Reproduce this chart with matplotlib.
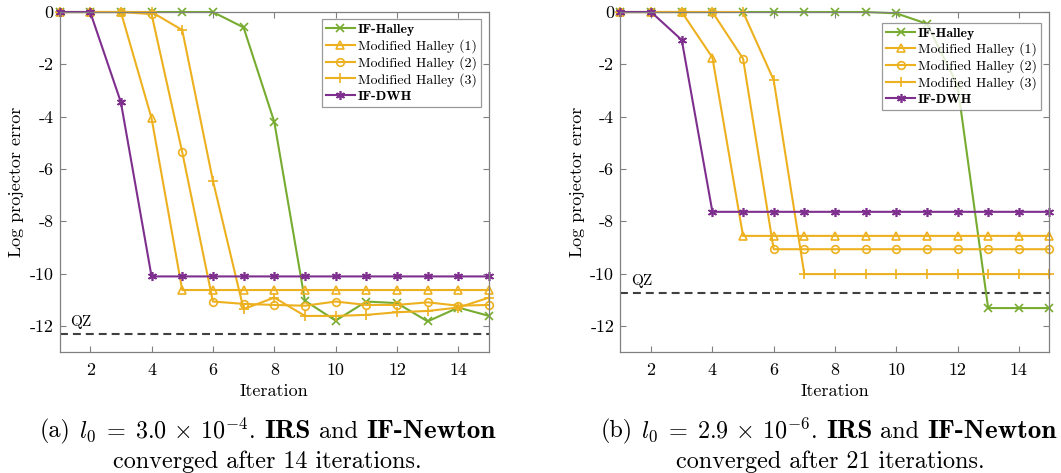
import matplotlib
matplotlib.use("Agg")
import matplotlib.pyplot as plt

plt.rcParams['font.family'] = 'serif'
plt.rcParams['font.serif'] = ['cmr10']
plt.rcParams['mathtext.fontset'] = 'cm'
plt.rcParams['axes.unicode_minus'] = False
plt.rcParams['axes.formatter.use_mathtext'] = True

iteracoes = list(range(1, 16))

# (a) l0 = 3.0e-4
halley_a = [0, 0, 0, 0, 0, 0, -0.59, -4.2, -11.04, -11.8, -11.07, -11.13, -11.83, -11.3, -11.62]
mod1_a = [0, 0, 0, -4.06, -10.63, -10.63, -10.63, -10.63, -10.63, -10.63, -10.63, -10.63, -10.63, -10.63, -10.63]
mod2_a = [0, 0, 0, -0.08, -5.36, -11.07, -11.16, -11.2, -11.23, -11.07, -11.2, -11.2, -11.1, -11.23, -11.2]
mod3_a = [0, 0, 0, 0, -0.69, -6.45, -11.36, -10.92, -11.62, -11.62, -11.58, -11.48, -11.43, -11.3, -10.92]
dwh_a = [0, 0, -3.45, -10.11, -10.11, -10.11, -10.11, -10.11, -10.11, -10.11, -10.11, -10.11, -10.11, -10.11, -10.11]
qz_a = -12.32

# (b) l0 = 2.9e-6
halley_b = [0, 0, 0, 0, 0, 0, 0, 0, 0, -0.05, -0.45, -2.8, -11.32, -11.32, -11.32]
mod1_b = [0, 0, 0, -1.74, -8.56, -8.56, -8.56, -8.56, -8.56, -8.56, -8.56, -8.56, -8.56, -8.56, -8.56]
mod2_b = [0, 0, 0, 0, -1.78, -9.07, -9.07, -9.07, -9.07, -9.07, -9.07, -9.07, -9.07, -9.07, -9.07]
mod3_b = [0, 0, 0, 0, 0, -2.6, -10.02, -10.02, -10.02, -10.02, -10.02, -10.02, -10.02, -10.02, -10.02]
dwh_b = [0, 0, -1.07, -7.64, -7.64, -7.64, -7.64, -7.64, -7.64, -7.64, -7.64, -7.64, -7.64, -7.64, -7.64]
qz_b = -10.75

nomes = ['IF-Halley', 'Modified Halley (1)', 'Modified Halley (2)', 'Modified Halley (3)', 'IF-DWH']
verde = '#77AC30'
amarelo = '#EDB120'
roxo = '#7E2F8E'

W, H = 1061, 473
fig = plt.figure(figsize=(W / 100, H / 100), dpi=100)


def desenha(ax, series, qz, leg_anchor):
    estilos = [
        dict(color=verde, marker='x', ms=5.5),
        dict(color=amarelo, marker='^', ms=5.5, mfc='none'),
        dict(color=amarelo, marker='o', ms=5.5, mfc='none'),
        dict(color=amarelo, marker='+', ms=7.5),
        dict(color=roxo, marker=(6, 2, 0), ms=6.5),
    ]
    for y, nome, est in zip(series, nomes, estilos):
        ax.plot(iteracoes, y, lw=1.5, mew=1.2, label=nome, clip_on=False, **est)
    ax.axhline(qz, color='#404040', lw=1.5, dashes=(3.8, 2.4), zorder=1)
    ax.text(1.36, qz + 0.32, 'QZ', fontsize=11, va='baseline', ha='left')

    ax.set_xlim(1, 15)
    ax.set_ylim(-13, 0)
    ax.set_xticks([2, 4, 6, 8, 10, 12, 14])
    ax.set_xticklabels(['2', '4', '6', '8', '10', '12', '14'])
    ax.set_yticks([0, -2, -4, -6, -8, -10, -12])
    ax.set_yticklabels(['0', '-2', '-4', '-6', '-8', '-10', '-12'])
    ax.tick_params(direction='in', length=4, width=0.8, color='#808080',
                   top=True, right=True, labelsize=13)
    ax.tick_params(axis='x', pad=7.5)
    ax.tick_params(axis='y', pad=4.5)
    for s in ax.spines.values():
        s.set_color('#808080')
        s.set_linewidth(0.9)
    ax.set_xlabel('Iteration', fontsize=13, labelpad=4)
    ax.set_ylabel('Log projector error', fontsize=13, labelpad=4)

    leg = ax.legend(loc='upper right', bbox_to_anchor=leg_anchor, borderaxespad=0,
                    fontsize=10, frameon=True, fancybox=False, edgecolor='#808080',
                    handlelength=2.1, handletextpad=0.2, labelspacing=0.22,
                    borderpad=0.3)
    leg.get_frame().set_linewidth(0.9)
    textos = leg.get_texts()
    textos[0].set_fontfamily('cmb10')
    textos[4].set_fontfamily('cmb10')


ax1 = fig.add_axes([0.0561, 0.2558, 0.4048, 0.7188])
desenha(ax1, [halley_a, mod1_a, mod2_a, mod3_a, dwh_a], qz_a, (0.981, 0.9785))

ax2 = fig.add_axes([0.5848, 0.2558, 0.4043, 0.7188])
desenha(ax2, [halley_b, mod1_b, mod2_b, mod3_b, dwh_b], qz_b, (0.981, 0.9685))


# legenda em pedacos (normal / negrito), espalhados ate a largura do original
def linha_legenda(cx, base, pecas, largura):
    renderer = fig.canvas.get_renderer()
    objs = []
    for s, fam, tam in pecas:
        objs.append(fig.text(0, 1 - base / H, s, family=fam, fontsize=tam,
                             ha='left', va='baseline'))
    larg = [t.get_window_extent(renderer).width for t in objs]
    gap = (largura - sum(larg)) / (len(objs) - 1)
    x = cx - largura / 2
    for t, w in zip(objs, larg):
        t.set_x(x / W)
        x += w + gap


for letra, expr, cx, n_it, cx2 in [('a', r'3.0\,\times\,10^{-4}', 268, 14, 267),
                                   ('b', r'2.9\,\times\,10^{-6}', 829, 21, 830)]:
    pecas = [('(%s)' % letra, 'cmr10', 17.4),
             (r'$l_0\;=\;%s$.' % expr, 'cmr10', 17.4),
             ('IRS', 'cmb10', 19.5),
             ('and', 'cmr10', 17.4),
             ('IF-Newton', 'cmb10', 19.5)]
    linha_legenda(cx, 437.5, pecas, 456)
    fig.text(cx2 / W, 1 - 467.5 / H, 'converged after %d iterations.' % n_it,
             ha='center', va='baseline', fontsize=17.4)

fig.savefig('out.png', dpi=100)
